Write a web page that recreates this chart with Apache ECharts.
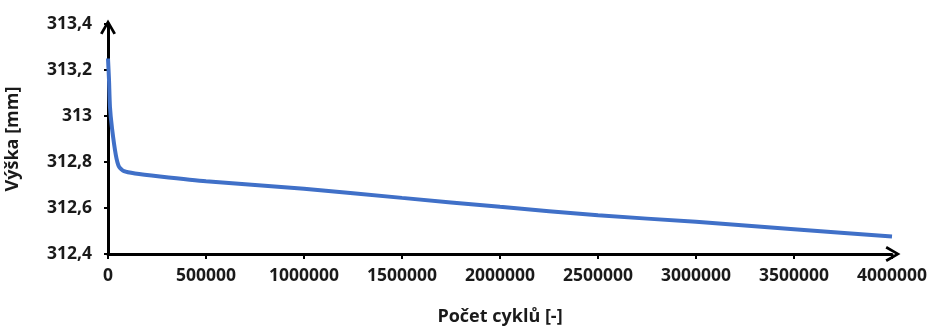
<!DOCTYPE html>
<html>
<head>
<meta charset="utf-8">
<script src="https://cdn.jsdelivr.net/npm/echarts@6/dist/echarts.min.js"></script>
<style>
  html, body { margin: 0; padding: 0; background: #fff; }
  #chart { width: 933px; height: 327px; }
</style>
</head>
<body>
<div id="chart"></div>
<script>
// počet cyklů a výška vzorku
var cycles = [0, 5000, 10000, 20000, 40000, 56000, 82000, 138000, 265000, 500000,
  1000000, 1500000, 2000000, 2500000, 3000000, 3500000, 4000000];
var heights = [313.25, 313.16, 313.04, 312.95, 312.83, 312.78, 312.76, 312.75, 312.737, 312.716,
  312.684, 312.644, 312.605, 312.568, 312.54, 312.508, 312.476];
var xTicks = [0, 500000, 1000000, 1500000, 2000000, 2500000, 3000000, 3500000, 4000000];
var yTicks = [312.4, 312.6, 312.8, 313, 313.2, 313.4];

var points = [];
for (var i = 0; i < cycles.length; i++) {
  points.push([cycles[i], heights[i]]);
}

var txt = '#1a1a1a';
var font = '"Open Sans", sans-serif';
var chevron = 'path://M0,12 L7,0 L14,12 L11.8,13.2 L7,4.6 L2.2,13.2 Z';

var chart = echarts.init(document.getElementById('chart'));
chart.setOption({
  animation: false,
  grid: { left: 108, right: 41, top: 24, bottom: 73, outerBoundsMode: 'none', containLabel: false },
  xAxis: {
    type: 'value',
    min: xTicks[0],
    max: xTicks[xTicks.length - 1],
    interval: 500000,
    name: 'Počet cyklů [-]',
    nameLocation: 'middle',
    nameGap: 54,
    nameTextStyle: { color: txt, fontFamily: font, fontSize: 18, fontWeight: 'bold' },
    axisLine: {
      lineStyle: { color: '#000', width: 3 },
      symbol: ['none', chevron],
      symbolSize: [17, 15],
      symbolOffset: [0, 1]
    },
    axisTick: { show: true, inside: false, length: 5, lineStyle: { color: '#000', width: 2 } },
    axisLabel: {
      margin: 13,
      color: txt, fontFamily: font, fontSize: 17.5, fontWeight: 'bold',
      formatter: function (v) { return String(v); }
    },
    splitLine: { show: false }
  },
  yAxis: {
    type: 'value',
    min: yTicks[0],
    max: yTicks[yTicks.length - 1],
    interval: 0.2,
    name: 'Výška [mm]',
    nameLocation: 'middle',
    nameGap: 86,
    nameTextStyle: { color: txt, fontFamily: font, fontSize: 18, fontWeight: 'bold' },
    axisLine: {
      show: true,
      lineStyle: { color: '#000', width: 3 },
      symbol: ['none', chevron],
      symbolSize: [17, 15],
      symbolOffset: [0, -3]
    },
    axisTick: { show: true, inside: false, length: 4, lineStyle: { color: '#000', width: 2 } },
    axisLabel: {
      margin: 16,
      color: txt, fontFamily: font, fontSize: 17.5, fontWeight: 'bold',
      formatter: function (v) { return String(+v.toFixed(1)).replace('.', ','); }
    },
    splitLine: { show: false }
  },
  series: [{
    type: 'line',
    data: points,
    showSymbol: false,
    smooth: 0.2,
    lineStyle: { color: '#4070c8', width: 4 }
  }]
});
</script>
</body>
</html>
